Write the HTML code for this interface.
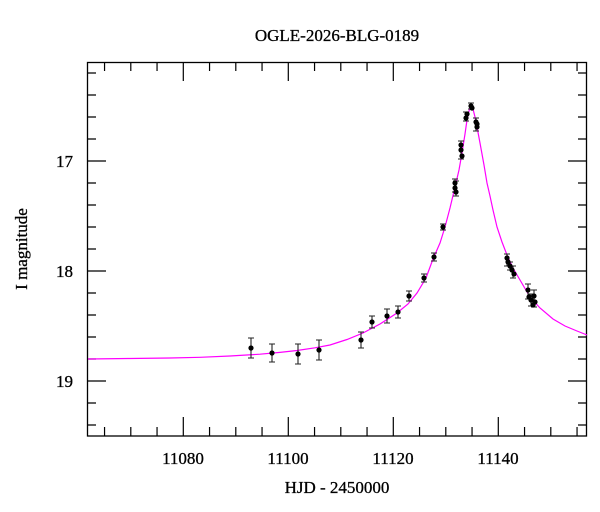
<!DOCTYPE html>
<html><head><meta charset="utf-8"><style>
html,body{margin:0;padding:0;background:#fff;}
svg{display:block;font-family:"Liberation Serif",serif;}
</style></head><body>
<svg width="600" height="512" viewBox="0 0 600 512" xmlns="http://www.w3.org/2000/svg">
<rect width="600" height="512" fill="#fff"/>
<text x="337" y="41" font-size="17" text-anchor="middle" fill="#000" stroke="#000" stroke-width="0.3">OGLE-2026-BLG-0189</text>
<path fill="none" stroke="#000" stroke-width="1.2" d="
M104.55,436v-9M130.8,436v-9M157.05,436v-9M183.3,436v-19M209.55,436v-9M235.8,436v-9M262.05,436v-9M288.3,436v-19M314.55,436v-9M340.8,436v-9M367.05,436v-9M393.3,436v-19M419.55,436v-9M445.8,436v-9M472.05,436v-9M498.3,436v-19M524.55,436v-9M550.8,436v-9M577.05,436v-9
M104.55,62v9M130.8,62v9M157.05,62v9M183.3,62v19M209.55,62v9M235.8,62v9M262.05,62v9M288.3,62v19M314.55,62v9M340.8,62v9M367.05,62v9M393.3,62v19M419.55,62v9M445.8,62v9M472.05,62v9M498.3,62v19M524.55,62v9M550.8,62v9M577.05,62v9
M87,73h9M87,95h9M87,117h9M87,139h9M87,161h19M87,183h9M87,205h9M87,227h9M87,249h9M87,271h19M87,293h9M87,315h9M87,337h9M87,359h9M87,381h19M87,403h9M87,425h9
M587,73h-9M587,95h-9M587,117h-9M587,139h-9M587,161h-19M587,183h-9M587,205h-9M587,227h-9M587,249h-9M587,271h-19M587,293h-9M587,315h-9M587,337h-9M587,359h-9M587,381h-19M587,403h-9M587,425h-9"/>
<rect x="87.5" y="62.5" width="499" height="373.5" fill="none" stroke="#000" stroke-width="1.3"/>
<g font-size="17" fill="#000" stroke="#000" stroke-width="0.3">
<text x="183" y="464" text-anchor="middle">11080</text>
<text x="288" y="464" text-anchor="middle">11100</text>
<text x="393" y="464" text-anchor="middle">11120</text>
<text x="498" y="464" text-anchor="middle">11140</text>
<text x="73" y="167" text-anchor="end">17</text>
<text x="73" y="277" text-anchor="end">18</text>
<text x="73" y="387" text-anchor="end">19</text>
<text x="337" y="493" text-anchor="middle">HJD - 2450000</text>
<text transform="translate(27,249) rotate(-90)" text-anchor="middle">I magnitude</text>
</g>
<polyline fill="none" stroke="#f0f" stroke-width="1.2" points="88,359 130,358.5 170,358 200,357.3 230,356 260,354.2 280,352.4 297,350.5 315,347.8 330,345 347,339.5 363,333 380,324 397,313 408,304 417,293 426,278 433,259 440,243 445,227 450,208 455,187 459,170 462,153 465,134 467,120 469,111 471,105 473,109 475,117 477,127 480,143 484,165 487,183 490,196 493,210 497,227 502,242 507,255 513,268 520,280 530,297 540,308 553,319 565,326 577,331 587,335"/>
<path fill="none" stroke="#222" stroke-width="1.1" d="
M251,338v20M248,338h6M248,358h6
M272,344v18M269,344h6M269,362h6
M298,344v20M295,344h6M295,364h6
M319,340v20M316,340h6M316,360h6
M361,332v16M358,332h6M358,348h6
M372,316v12M369,316h6M369,328h6
M387,309v14M384,309h6M384,323h6
M398,306v12M395,306h6M395,318h6
M409,291v10M406,291h6M406,301h6
M424,274v8M421,274h6M421,282h6
M434,253v8M431,253h6M431,261h6
M443,224v6M440,224h6M440,230h6
M455,179v13M452,179h6M452,192h6
M456,181v15M453,181h6M453,196h6
M461,141v18M458,141h6M458,159h6
M466,112v9M463,112h6M463,121h6
M471,103v6M468,103h6M468,109h6
M476,118v13M473,118h6M473,131h6
M507,254v12M504,254h6M504,266h6
M510,262v8M507,262h6M507,270h6
M513,266v12M510,266h6M510,278h6
M528,284v15M525,284h6M525,299h6
M531,294v12M528,294h6M528,306h6
M534,290v17M531,290h6M531,307h6"/>
<g fill="#000">
<circle cx="251" cy="348" r="2.6"/><circle cx="272" cy="353" r="2.6"/><circle cx="298" cy="354" r="2.6"/><circle cx="319" cy="350" r="2.6"/>
<circle cx="361" cy="340" r="2.6"/><circle cx="372" cy="322" r="2.6"/><circle cx="387" cy="316" r="2.6"/><circle cx="398" cy="312" r="2.6"/>
<circle cx="409" cy="296" r="2.6"/><circle cx="424" cy="278" r="2.6"/><circle cx="434" cy="257" r="2.6"/><circle cx="443" cy="227" r="2.6"/>
<circle cx="455" cy="183" r="2.6"/><circle cx="455" cy="188" r="2.6"/><circle cx="456" cy="192" r="2.6"/>
<circle cx="461" cy="145" r="2.6"/><circle cx="461" cy="150" r="2.6"/><circle cx="462" cy="156" r="2.6"/>
<circle cx="466" cy="118" r="2.6"/><circle cx="467" cy="114" r="2.6"/><circle cx="471" cy="106" r="2.6"/><circle cx="472" cy="108" r="2.6"/>
<circle cx="476" cy="122" r="2.6"/><circle cx="477" cy="127" r="2.6"/><circle cx="477" cy="124" r="2.6"/>
<circle cx="507" cy="258" r="2.6"/><circle cx="508" cy="262" r="2.6"/><circle cx="510" cy="266" r="2.6"/><circle cx="512" cy="270" r="2.6"/><circle cx="514" cy="274" r="2.6"/>
<circle cx="528" cy="290" r="2.6"/><circle cx="529" cy="297" r="2.6"/><circle cx="531" cy="300" r="2.6"/><circle cx="533" cy="305" r="2.6"/><circle cx="534" cy="296" r="2.6"/><circle cx="535" cy="302" r="2.6"/>
</g>
</svg>
</body></html>
